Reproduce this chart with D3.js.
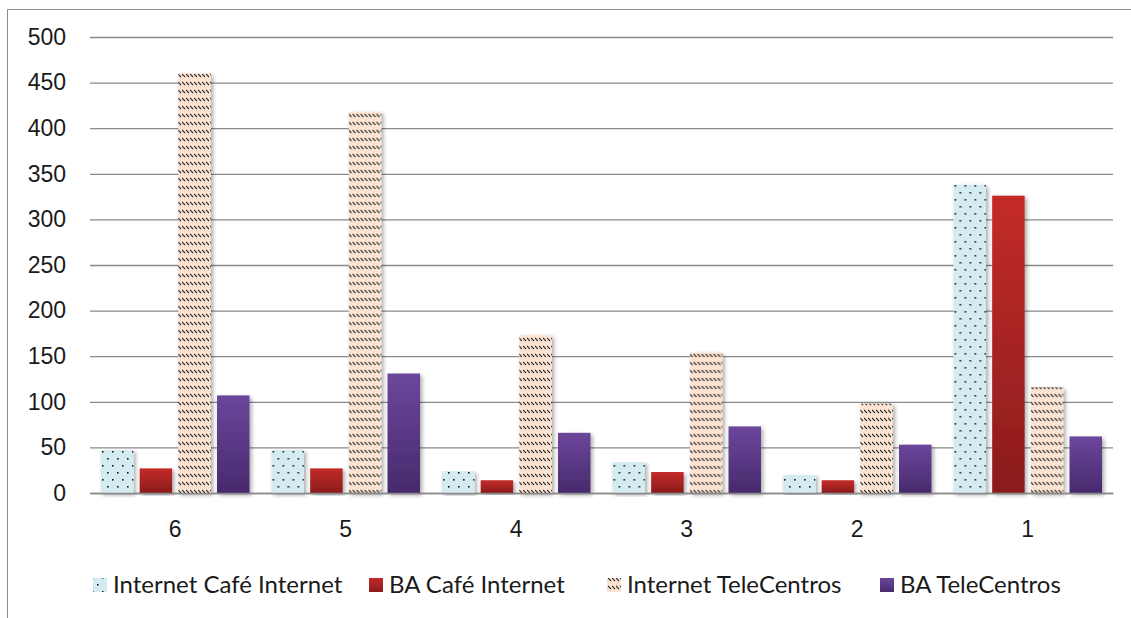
<!DOCTYPE html>
<html><head><meta charset="utf-8">
<script src="https://cdn.jsdelivr.net/npm/d3@7"></script>
<style>body{margin:0;background:#fff;}svg{display:block;font-family:Lato,"Open Sans",sans-serif;}</style>
</head><body>
<svg id="c" width="1131" height="618"></svg>
<script>
const categories = ["6","5","4","3","2","1"];
const seriesNames = ["Internet Café Internet","BA Café Internet","Internet TeleCentros","BA TeleCentros"];
const internetCafe = [47, 47, 24, 34, 20, 338];
const baCafe = [27, 27, 14, 23, 14, 326];
const internetTele = [460, 418, 173, 154, 98, 116];
const baTele = [107, 131, 66, 73, 53, 62];
const yTicks = [0,50,100,150,200,250,300,350,400,450,500];
const seriesValues = [internetCafe, baCafe, internetTele, baTele];

const svg = d3.select("#c");
const defs = svg.append("defs");
const pDot = defs.append("pattern").attr("id","pDot").attr("patternUnits","userSpaceOnUse").attr("width",10).attr("height",14);
pDot.append("rect").attr("width",10).attr("height",14).attr("fill","#d4ebf1");
pDot.append("rect").attr("x",2).attr("y",3).attr("width",1.6).attr("height",1.6).attr("fill","#1a1a1a");
pDot.append("rect").attr("x",7).attr("y",10).attr("width",1.6).attr("height",1.6).attr("fill","#1a1a1a");
const pHatch = defs.append("pattern").attr("id","pHatch").attr("patternUnits","userSpaceOnUse").attr("width",4).attr("height",8);
pHatch.append("rect").attr("width",4).attr("height",8).attr("fill","#fde3d1");
pHatch.append("path").attr("d","M0,2 L3,5").attr("stroke","#2a2a2a").attr("stroke-width",1.1);
const gRed = defs.append("linearGradient").attr("id","gRed").attr("x1",0).attr("y1",0).attr("x2",0).attr("y2",1);
gRed.append("stop").attr("offset","0%").attr("stop-color","#c42b28");
gRed.append("stop").attr("offset","100%").attr("stop-color","#8a1c1c");
const gPur = defs.append("linearGradient").attr("id","gPur").attr("x1",0).attr("y1",0).attr("x2",0).attr("y2",1);
gPur.append("stop").attr("offset","0%").attr("stop-color","#6c469c");
gPur.append("stop").attr("offset","100%").attr("stop-color","#472a6d");
const sh = defs.append("filter").attr("id","sh").attr("x","-20%").attr("y","-5%").attr("width","150%").attr("height","115%");
sh.append("feGaussianBlur").attr("in","SourceAlpha").attr("stdDeviation",2).attr("result","b");
sh.append("feOffset").attr("in","b").attr("dx",2).attr("dy",2).attr("result","o");
sh.append("feComponentTransfer").attr("in","o").attr("result","o2").append("feFuncA").attr("type","linear").attr("slope",0.35);
const m = sh.append("feMerge"); m.append("feMergeNode").attr("in","o2"); m.append("feMergeNode").attr("in","SourceGraphic");

const fills = ["url(#pDot)","url(#gRed)","url(#pHatch)","url(#gPur)"];
const swatchFills = ["url(#pDot)","url(#gRed)","url(#pHatch)","url(#gPur)"];

svg.append("path").attr("d","M7.5,618 L7.5,9.5 L1131,9.5").attr("fill","none").attr("stroke","#8c8c8c").attr("stroke-width",1);

const x0 = d3.scaleBand().domain(categories).range([90,1113]).paddingInner(0).paddingOuter(0);
const y = d3.scaleLinear().domain([0,500]).range([493,37]);
const x1 = d3.scaleBand().domain(d3.range(4)).range([11, x0.bandwidth()-11]).paddingInner(0.16);

const ax = svg.append("g").attr("transform","translate(90,0)")
  .call(d3.axisLeft(y).tickValues(yTicks).tickSize(-1023).tickPadding(24));
ax.select(".domain").remove();
ax.selectAll(".tick line").attr("stroke","#8a8a8a").attr("stroke-width",1.3);
ax.selectAll(".tick text").attr("font-size",23).attr("fill","#1a1a1a");

const groups = svg.append("g").selectAll("g").data(categories).join("g")
  .attr("transform",d=>`translate(${x0(d)},0)`);
groups.selectAll("rect").data((d,i)=>seriesValues.map((s,k)=>({k,v:s[i]}))).join("rect")
  .attr("x",d=>x1(d.k)).attr("width",x1.bandwidth())
  .attr("y",d=>y(d.v)).attr("height",d=>y(0)-y(d.v))
  .attr("fill",d=>fills[d.k]).attr("filter","url(#sh)");

const xa = svg.append("g").attr("transform","translate(0,493)")
  .call(d3.axisBottom(x0).tickSize(0).tickPadding(28));
xa.select(".domain").attr("stroke","#8a8a8a").attr("stroke-width",1.3);
xa.selectAll(".tick text").attr("font-size",23).attr("fill","#1a1a1a");

const legX = [93, 369, 607, 880];
const leg = svg.append("g");
seriesNames.forEach((n,k)=>{
  leg.append("rect").attr("x",legX[k]).attr("y",578).attr("width",14).attr("height",14).attr("fill",swatchFills[k]);
  leg.append("text").attr("x",legX[k]+20).attr("y",593).attr("font-size",24).attr("fill","#1a1a1a").text(n);
});
</script>
</body></html>
